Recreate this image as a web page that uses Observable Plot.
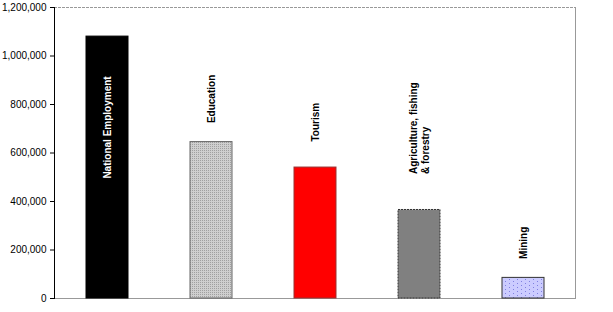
<!DOCTYPE html>
<html>
<head>
<meta charset="utf-8">
<script src="https://cdn.jsdelivr.net/npm/d3@7"></script>
<script src="https://cdn.jsdelivr.net/npm/@observablehq/plot@0.6"></script>
<style>
  html, body { margin: 0; padding: 0; background: white; }
</style>
</head>
<body>
<div id="chart"></div>
<script>
const categories = ["National Employment", "Education", "Tourism", "Agriculture, fishing\n& forestry", "Mining"];
const values = [1080000, 645000, 540000, 365000, 85000];
const yTicks = [0, 200000, 400000, 600000, 800000, 1000000, 1200000];

const data = categories.map((c, i) => ({category: c, value: values[i]}));

const fills = {
  "National Employment": "#000000",
  "Education": "url(#patEdu)",
  "Tourism": "#ff0000",
  "Agriculture, fishing\n& forestry": "#808080",
  "Mining": "url(#patMin)"
};
const strokes = {
  "National Employment": "#000000",
  "Education": "#666666",
  "Tourism": "#993333",
  "Agriculture, fishing\n& forestry": "#333333",
  "Mining": "#333333"
};
const labelDy = {
  "National Employment": 142,
  "Education": -19,
  "Tourism": -26,
  "Agriculture, fishing\n& forestry": -36,
  "Mining": -19
};

const plot = Plot.plot({
  width: 613,
  height: 312,
  marginLeft: 54,
  marginRight: 38,
  marginTop: 7,
  marginBottom: 14,
  style: {fontFamily: "'Liberation Sans', Arial, sans-serif", fontSize: "10px", background: "white", color: "black"},
  x: {domain: categories, paddingInner: 0.6, paddingOuter: 0.3, axis: null},
  y: {domain: [0, 1200000], ticks: yTicks, tickFormat: d3.format(","), tickSize: 4, tickPadding: 4, label: null},
  marks: [
    Plot.ruleY([1200000], {stroke: "#999999", strokeDasharray: "3,1"}),
    Plot.frame({anchor: "right", stroke: "#999999"}),
    Plot.ruleY([0], {stroke: "#999999"}),
    Plot.frame({anchor: "left", stroke: "#000000", strokeDasharray: "1,1"}),
    ...data.map(d => Plot.barY([d], {
      x: "category", y: "value",
      fill: fills[d.category],
      stroke: strokes[d.category],
      strokeWidth: 1,
      strokeDasharray: d.category.startsWith("Agriculture") ? "2,1" : null
    })),
    ...data.map(d => Plot.text([d], {
      x: "category", y: "value", text: "category",
      rotate: -90, textAnchor: "start", lineHeight: 1.2,
      dy: labelDy[d.category],
      fill: d.category === "National Employment" ? "white" : "black",
      fontWeight: "bold", fontSize: 10
    }))
  ]
});

const ns = "http://www.w3.org/2000/svg";
const defs = document.createElementNS(ns, "defs");
defs.innerHTML = `
  <pattern id="patEdu" width="2" height="2" patternUnits="userSpaceOnUse">
    <rect width="2" height="2" fill="#cfcfcf"/>
    <rect width="1" height="1" fill="#a0a0a0"/>
  </pattern>
  <pattern id="patMin" width="8" height="4" patternUnits="userSpaceOnUse">
    <rect width="8" height="4" fill="#ccccff"/>
    <rect x="1" y="1" width="1" height="1" fill="#8080e0"/>
    <rect x="5" y="3" width="1" height="1" fill="#8080e0"/>
  </pattern>`;
plot.insertBefore(defs, plot.firstChild);

document.getElementById("chart").appendChild(plot);
</script>
</body>
</html>
